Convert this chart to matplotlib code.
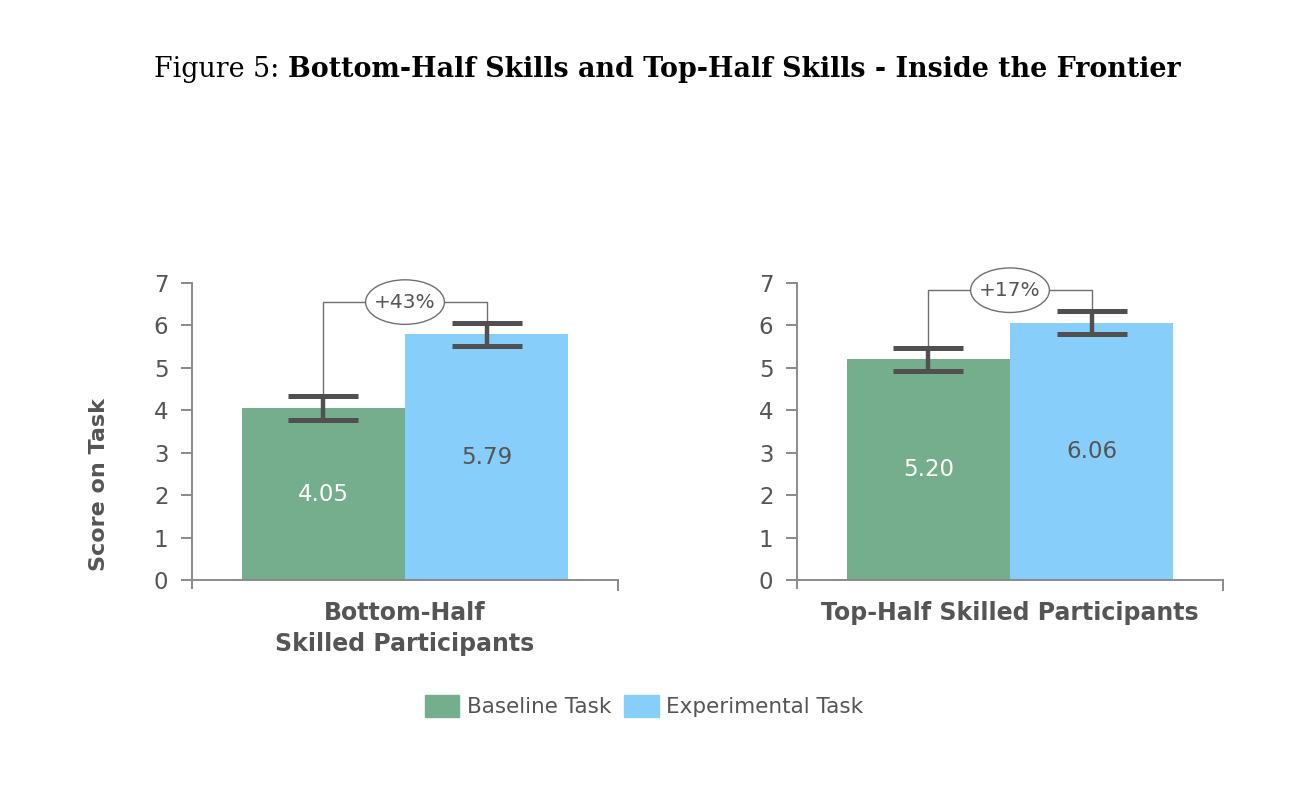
import matplotlib
matplotlib.use("Agg")
import matplotlib.pyplot as plt
from matplotlib.patches import Ellipse

# data
groups = ["Bottom-Half\nSkilled Participants", "Top-Half Skilled Participants"]
series = ["Baseline Task", "Experimental Task"]
baseline = [4.05, 5.20]
experimental = [5.79, 6.06]
baseline_err = [0.28, 0.27]
experimental_err = [0.27, 0.27]
gains = ["+43%", "+17%"]
bracket_y = [6.55, 6.83]
yticks = [0, 1, 2, 3, 4, 5, 6, 7]

GREEN = "#74ae8d"
BLUE = "#87cefa"
TEXT = "#555555"
AXIS = "#8a8a8a"
ERR = "#505050"

plt.rcParams["font.family"] = ["DejaVu Sans"]

fig = plt.figure(figsize=(13.08, 7.94), dpi=100)
W, H = 1308, 794


def add_axes(x0, x1, top, bottom):
    return fig.add_axes([x0 / W, 1 - bottom / H, (x1 - x0) / W, (bottom - top) / H])


axes = [add_axes(192, 618, 283, 588), add_axes(797, 1223, 283, 588)]
w = 0.383

for i, ax in enumerate(axes):
    xs = [-w / 2, w / 2]
    vals = [baseline[i], experimental[i]]
    errs = [baseline_err[i], experimental_err[i]]
    ax.bar(xs, vals, width=w, color=[GREEN, BLUE], zorder=2)

    # bracket between the two error bars
    tops = [v + e for v, e in zip(vals, errs)]
    ax.plot([xs[0], xs[0], xs[1], xs[1]],
            [tops[0], bracket_y[i], bracket_y[i], tops[1]],
            color="#707070", lw=1, zorder=3, clip_on=False)
    ax.errorbar(xs, vals, yerr=errs, fmt="none", ecolor=ERR,
                elinewidth=3.2, capsize=25, capthick=3.6, zorder=4)
    ax.add_patch(Ellipse((0, bracket_y[i]), 0.185, 1.05, facecolor="white",
                         edgecolor="#707070", lw=1, zorder=5, clip_on=False))
    ax.text(0, bracket_y[i], gains[i], ha="center", va="center",
            fontsize=14.5, color=TEXT, zorder=6)

    # value labels at mid-height
    ax.text(xs[0], vals[0] / 2, f"{vals[0]:.2f}", ha="center", va="center",
            fontsize=16.5, color="white", zorder=6)
    ax.text(xs[1], vals[1] / 2, f"{vals[1]:.2f}", ha="center", va="center",
            fontsize=16.5, color=TEXT, zorder=6)

    ax.text(0, -0.5, groups[i], ha="center", va="top", fontsize=17,
            fontweight="bold", color=TEXT, linespacing=1.35)

    ax.set_xlim(-0.5, 0.5)
    ax.set_ylim(-0.19, 7)
    ax.set_yticks(yticks)
    ax.set_xticks([0.5])
    ax.set_xticklabels([""])
    for s in ["top", "right"]:
        ax.spines[s].set_visible(False)
    ax.spines["bottom"].set_position(("data", 0))
    for s in ["left", "bottom"]:
        ax.spines[s].set_color(AXIS)
        ax.spines[s].set_linewidth(1.4)
    ax.tick_params(axis="both", length=8, width=1.4, color=AXIS)
    ax.tick_params(axis="y", labelsize=16.5, labelcolor=TEXT, pad=9)

fig.text(99 / W, 1 - 485 / H, "Score on Task", rotation=90, ha="center",
         va="center", fontsize=16, fontweight="bold", color=TEXT)

handles = [plt.Rectangle((0, 0), 1, 1, color=c) for c in [GREEN, BLUE]]
fig.legend(handles, series, loc="center", bbox_to_anchor=(644 / W, 1 - 706 / H),
           ncol=2, frameon=False, fontsize=15.5, handlelength=1.6,
           handleheight=1.25, handletextpad=0.35, columnspacing=0.6,
           borderpad=0, labelcolor=TEXT)

# title: regular prefix, bold remainder, centred as one line
t1 = fig.text(152 / W, 1 - 77 / H, "Figure 5: ", ha="left", va="baseline",
              fontsize=19.4, family="DejaVu Serif", color="black")
t2 = axes[0].annotate("Bottom-Half Skills and Top-Half Skills - Inside the Frontier",
                      xy=(1, 0), xycoords=t1, ha="left", va="bottom",
                      fontsize=19.4, family="DejaVu Serif", fontweight="bold",
                      color="black", annotation_clip=False)
fig.canvas.draw()
r = fig.canvas.get_renderer()
x0 = t1.get_window_extent(r).x0
x1 = t2.get_window_extent(r).x1
t1.set_x((667 - (x1 - x0) / 2) / W)

fig.savefig("out.png", dpi=100)
